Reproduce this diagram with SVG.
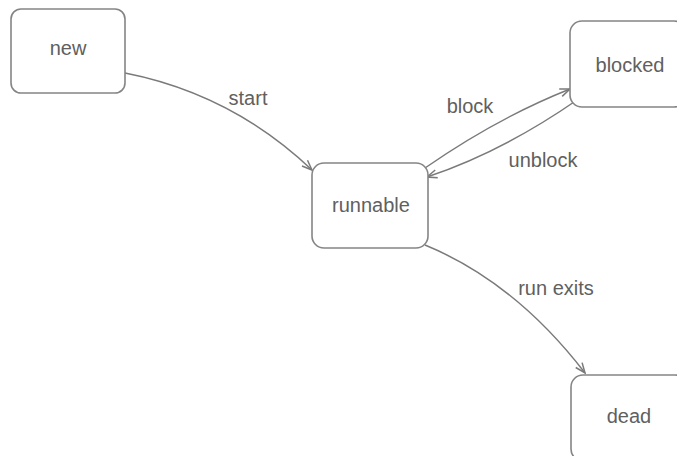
<svg xmlns="http://www.w3.org/2000/svg" width="677" height="456" viewBox="0 0 677 456">
<style>
.box{fill:#fff;stroke:#858585;stroke-width:1.6}
.lbl{font-family:"Liberation Sans",Arial,sans-serif;font-size:20px;fill:#606060;text-anchor:middle}
.edge{fill:none;stroke:#7a7a7a;stroke-width:1.5}
</style>
<defs>
<marker id="arr" viewBox="0 0 12 10" refX="11" refY="5" markerWidth="12" markerHeight="10" markerUnits="userSpaceOnUse" orient="auto">
<path d="M1,1 L11,5 L1,9" fill="none" stroke="#7a7a7a" stroke-width="1.5"/>
</marker>
</defs>
<rect width="677" height="456" fill="#fff"/>
<g id="connectors">
<path class="edge" d="M125,73 Q232,94 312,170" marker-end="url(#arr)"/>
<path class="edge" d="M425,168 Q497,118 570,89" marker-end="url(#arr)"/>
<path class="edge" d="M577,100 Q502,152 427,177" marker-end="url(#arr)"/>
<path class="edge" d="M425,245 Q515,282 585,373" marker-end="url(#arr)"/>
<text class="lbl" x="248" y="105">start</text>
<text class="lbl" x="470" y="113">block</text>
<text class="lbl" x="543" y="167">unblock</text>
<text class="lbl" x="556" y="295">run exits</text>
</g>
<g id="new">
<rect class="box" x="11" y="9" width="114" height="84" rx="10"/>
<text class="lbl" x="68" y="55">new</text>
</g>
<g id="runnable">
<rect class="box" x="312" y="163" width="116" height="85" rx="12"/>
<text class="lbl" x="371" y="212">runnable</text>
</g>
<g id="blocked">
<rect class="box" x="570" y="21" width="116" height="86" rx="12"/>
<text class="lbl" x="630" y="72">blocked</text>
</g>
<g id="dead">
<rect class="box" x="571" y="375" width="116" height="86" rx="12"/>
<text class="lbl" x="629" y="423">dead</text>
</g>
</svg>
